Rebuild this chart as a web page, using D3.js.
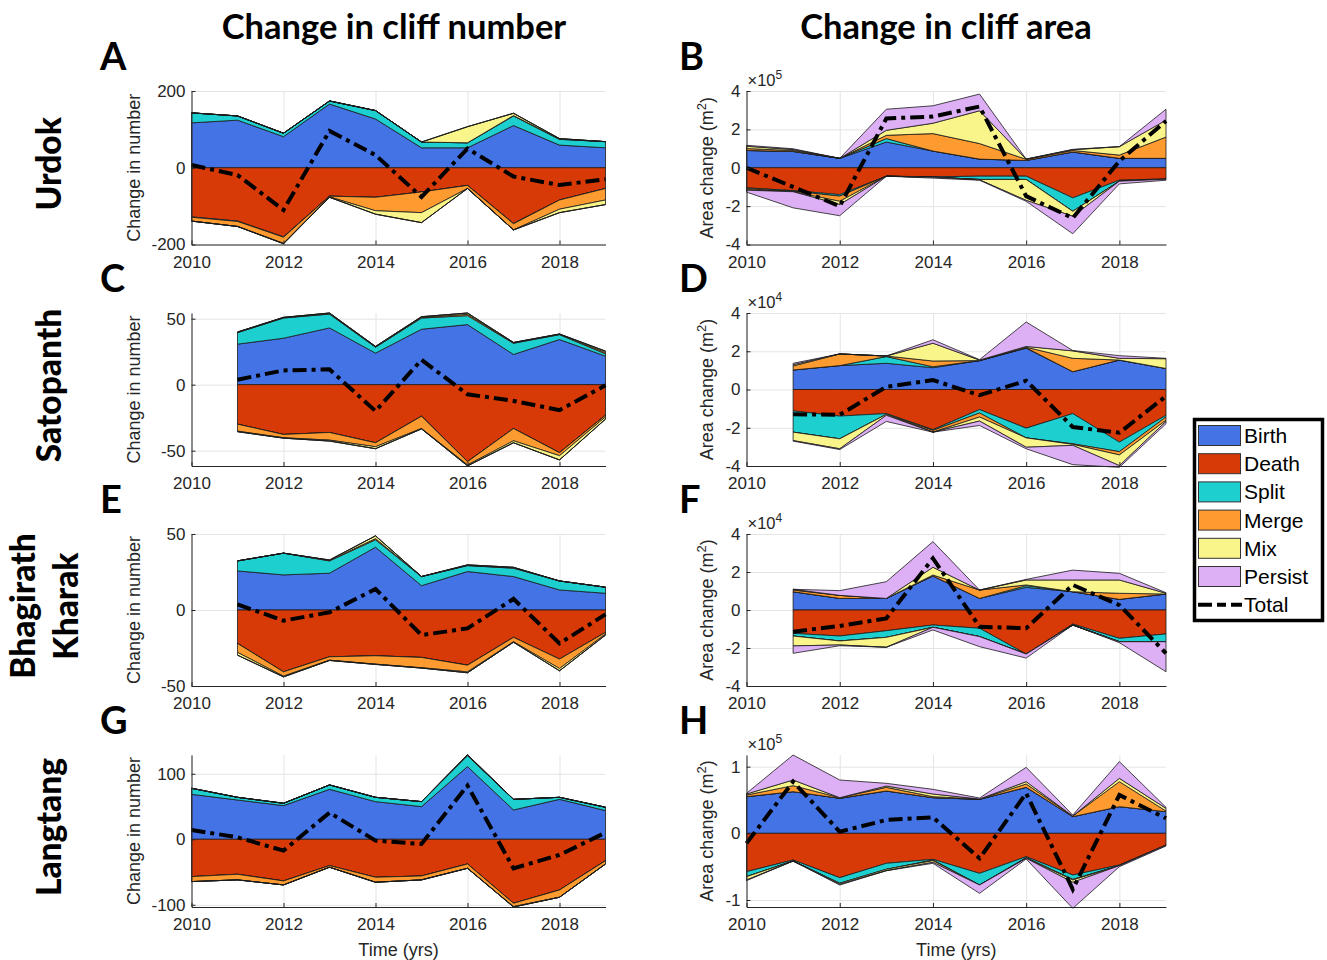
<!DOCTYPE html>
<html><head><meta charset="utf-8">
<script src="https://cdn.jsdelivr.net/npm/d3@7"></script>
<style>body{margin:0;background:#fff;} svg{display:block;}</style>
</head><body>
<svg id="chart" width="1327" height="960"></svg>
<script>
// ---------- shared labels ----------
const yearsAll = [2010, 2011, 2012, 2013, 2014, 2015, 2016, 2017, 2018, 2019];
const yearsLate = [2011, 2012, 2013, 2014, 2015, 2016, 2017, 2018, 2019];
const xTickYears = [2010, 2012, 2014, 2016, 2018];
const legendNames = ["Birth", "Death", "Split", "Merge", "Mix", "Persist", "Total"];
const columnTitles = ["Change in cliff number", "Change in cliff area"];
const rowNames = [["Urdok"], ["Satopanth"], ["Bhagirath", "Kharak"], ["Langtang"]];
const panelLetters = ["A", "B", "C", "D", "E", "F", "G", "H"];

// ---------- Panel A : Urdok, number ----------
const A_birth     = [117, 124, 81, 166, 127, 52, 52, 110, 59, 52];
const A_splitUp   = [26, 11, 9, 8, 22, 15, 13, 25, 15, 16];
const A_mergeUp   = [0, 0, 0, 0, 0, 0, 0, 1, 1, 0];
const A_mixUp     = [0, 0, 0, 0, 0, 0, 42, 6, 1, 0];
const A_persistUp = [0, 0, 0, 0, 0, 0, 0, 0, 0, 0];
const A_death     = [-128, -139, -180, -74, -77, -63, -46, -145, -84, -54];
const A_splitDown = [-1, -1, -1, 0, 0, 0, 0, -1, 0, 0];
const A_mergeDown = [-10, -13, -16, -2, -35, -54, -8, -16, -24, -30];
const A_mixDown   = [0, 0, -1, -1, -9, -26, 0, 0, -9, -12];
const A_persistDown = [0, 0, 0, 0, 0, 0, 0, 0, 0, 0];
const A_total     = [7, -19, -110, 96, 33, -76, 50, -23, -45, -30];
const A_yTicks = [-200, 0, 200];
const A_yRange = [-200, 200];

// ---------- Panel B : Urdok, area (x10^5 m2) ----------
const B_birth     = [0.9, 0.85, 0.49, 1.34, 0.87, 0.45, 0.38, 0.82, 0.49, 0.49];
const B_splitUp   = [0, 0, 0, 0.18, 0, 0, 0, 0, 0, 0];
const B_mergeUp   = [0.1, 0.05, 0, 0.17, 0.91, 0.81, 0.06, 0.08, 0.17, 1.11];
const B_mixUp     = [0.12, 0.05, 0, 0.26, 0.54, 1.71, 0.01, 0.04, 0.44, 0.88];
const B_persistUp = [0.05, 0.04, 0, 1.1, 0.91, 0.87, 0, 0.02, 0, 0.57];
const B_death     = [-1.05, -1.19, -1.4, -0.44, -0.47, -0.44, -0.44, -1.57, -0.65, -0.58];
const B_splitDown = [-0.05, -0.03, -0.08, 0, -0.02, -0.17, -0.17, -0.7, -0.05, -0.02];
const B_mergeDown = [-0.07, -0.03, -0.27, 0, 0, 0, 0, 0, 0, 0];
const B_mixDown   = [0, 0, -0.17, 0, 0, -0.02, -1.09, -0.26, 0, 0];
const B_persistDown = [-0.1, -0.84, -0.58, 0, -0.05, -0.02, -0.05, -0.91, -0.14, -0.05];
const B_total     = [0, -1.0, -2.0, 2.57, 2.67, 3.19, -1.48, -2.62, 0.35, 2.44];
const B_yTicks = [-4, -2, 0, 2, 4];
const B_yRange = [-4, 4];

// ---------- Panel C : Satopanth, number ----------
const C_birth     = [30.7, 35.2, 43, 23.9, 42, 45.5, 22.9, 34.2, 21.6];
const C_splitUp   = [8.7, 15.3, 10.5, 4.5, 8.5, 6.8, 8.5, 3.7, 1.8];
const C_mergeUp   = [0.3, 0.3, 0.4, 0.3, 0.5, 1, 0.3, 0.3, 1];
const C_mixUp     = [0.2, 0.2, 0.4, 0.3, 0.5, 1, 0.3, 0.2, 1];
const C_persistUp = [0, 0, 0, 0, 0, 0, 0, 0, 0];
const C_death     = [-29.9, -37.7, -36.2, -44, -23.9, -58.3, -33.2, -51.5, -23.1];
const C_splitDown = [0, 0, 0, 0, 0, 0, 0, 0, 0];
const C_mergeDown = [-5.3, -2.5, -5.8, -3, -9.3, -2.5, -9.3, -2.3, -1.3];
const C_mixDown   = [-0.4, -0.3, -0.7, -1.5, -0.3, -0.7, -1.5, -3.2, -1.7];
const C_persistDown = [0, 0, 0, 0, 0, 0, 0, 0, 0];
const C_total     = [3.8, 10.8, 11.6, -20, 18.8, -7.3, -12.3, -19.3, -0.5];
const C_yTicks = [-50, 0, 50];
const C_yRange = [-61.6, 54.3];

// ---------- Panel D : Satopanth, area (x10^4 m2) ----------
const D_birth     = [1.02, 1.25, 1.37, 1.14, 1.51, 2.16, 0.93, 1.54, 1.1];
const D_splitUp   = [0, 0, 0.35, 0.05, 0, 0.02, 0, 0, 0];
const D_mergeUp   = [0.21, 0.61, 0.03, 0.3, 0, 0.03, 0.7, 0, 0];
const D_mixUp     = [0.07, 0, 0, 0.93, 0.03, 0.04, 0.39, 0.09, 0.51];
const D_persistUp = [0.07, 0, 0, 0.18, 0.02, 1.28, 0.02, 0.14, 0.02];
const D_death     = [-1.12, -1.39, -1.26, -2.1, -1.05, -2.02, -1.26, -2.75, -1.35];
const D_splitDown = [-1.11, -1.19, -0.04, -0.04, -0.18, -0.51, -1.58, -0.5, -0.09];
const D_mergeDown = [0, 0, 0, -0.09, -0.21, 0, -0.03, -0.17, -0.17];
const D_mixDown   = [-0.44, -0.52, -0.05, 0, -0.21, -0.49, -0.05, -0.56, -0.06];
const D_persistDown = [-0.03, -0.04, -0.32, 0, -0.23, -0.08, -1.01, -0.09, -0.12];
const D_total     = [-1.3, -1.32, 0.14, 0.49, -0.3, 0.46, -1.96, -2.26, -0.35];
const D_yTicks = [-4, -2, 0, 2, 4];
const D_yRange = [-4, 4];

// ---------- Panel E : Bhagirath Kharak, number ----------
const E_birth     = [25.7, 23.1, 24.2, 41.3, 16, 25.3, 22, 13.2, 11];
const E_splitUp   = [6.6, 14.3, 8.1, 4.9, 6, 3.9, 5.5, 5.9, 4];
const E_mergeUp   = [0, 0, 0.3, 0.8, 0, 0.2, 0.3, 0, 0];
const E_mixUp     = [0, 0, 0.3, 1.8, 0, 0.3, 0.3, 0, 0];
const E_persistUp = [0, 0, 0, 0, 0, 0, 0, 0, 0];
const E_death     = [-22, -40.7, -30.8, -30.1, -31.2, -36.3, -18, -32.3, -14.7];
const E_splitDown = [0, 0, 0, 0, 0, 0, 0, 0, 0];
const E_mergeDown = [-5.9, -2.8, -2.2, -5.5, -6.8, -4.4, -2.9, -6.2, -1.1];
const E_mixDown   = [-1.8, -0.5, -0.2, -0.2, -0.2, -0.6, -0.3, -1.5, -0.7];
const E_persistDown = [0, 0, 0, 0, 0, 0, 0, 0, 0];
const E_total     = [3.7, -7, -1.5, 13.8, -16.5, -12.1, 7.3, -22, -2.9];
const E_yTicks = [-50, 0, 50];
const E_yRange = [-50, 50];

// ---------- Panel F : Bhagirath Kharak, area (x10^4 m2) ----------
const F_birth     = [0.96, 0.61, 0.61, 1.79, 0.61, 1.19, 0.96, 0.56, 0.84];
const F_splitUp   = [0, 0, 0, 0, 0, 0.09, 0, 0, 0];
const F_mergeUp   = [0.09, 0.16, 0, 0.05, 0.44, 0.04, 0, 0.32, 0];
const F_mixUp     = [0.04, 0, 0, 0.41, 0, 0.26, 0.62, 0.7, 0.04];
const F_persistUp = [0, 0.25, 0.88, 1.35, 0, 0.03, 0.52, 0.35, 0.03];
const F_death     = [-1.23, -1.37, -1.09, -0.79, -0.96, -2.32, -0.74, -1.49, -1.26];
const F_splitDown = [-0.14, -0.26, -0.35, -0.12, -0.44, 0, -0.05, -0.18, -0.41];
const F_mergeDown = [0, 0, 0, 0, 0, 0, 0, 0, 0];
const F_mixDown   = [-0.52, -0.21, -0.52, 0, 0, 0, 0, 0, 0];
const F_persistDown = [-0.39, -0.04, 0, -0.14, -0.53, -0.21, 0, -0.05, -1.58];
const F_total     = [-1.14, -0.84, -0.44, 2.72, -0.88, -0.96, 1.32, 0.26, -2.28];
const F_yTicks = [-4, -2, 0, 2, 4];
const F_yRange = [-4, 4];

// ---------- Panel G : Langtang, number ----------
const G_birth     = [68.7, 60, 51.4, 76.3, 57.5, 49.9, 111, 44.8, 61, 43.8];
const G_splitUp   = [9.2, 4.1, 3.6, 6.7, 6.6, 7.6, 16.7, 16.2, 3.1, 5.1];
const G_mergeUp   = [0, 0, 0, 0, 0, 0, 0.5, 0, 0, 0];
const G_mixUp     = [0, 0, 0, 0, 0, 0, 1, 0, 0, 0];
const G_persistUp = [0, 0, 0, 0, 0, 0, 0, 0, 0, 0];
const G_death     = [-57, -53.4, -63.6, -40.2, -58, -56, -37.7, -97.7, -77.4, -32.6];
const G_splitDown = [0, 0, 0, 0, 0, 0, 0, 0, 0, 0];
const G_mergeDown = [-7.6, -8.6, -6.1, -2.5, -7.6, -6, -6.6, -5.1, -11.1, -5.1];
const G_mixDown   = [0, 0, 0, 0, 0, 0, 0, -0.6, 0, 0];
const G_persistDown = [0, 0, 0, 0, 0, 0, 0, 0, 0, 0];
const G_total     = [14.2, 3, -17.3, 40.7, -2, -7.1, 82, -44.3, -23.9, 10.2];
const G_yTicks = [-100, 0, 100];
const G_yRange = [-103.4, 128.7];

// ---------- Panel H : Langtang, area (x10^5 m2) ----------
const H_birth     = [0.55, 0.625, 0.525, 0.635, 0.535, 0.51, 0.69, 0.25, 0.4, 0.325];
const H_splitUp   = [0, 0, 0, 0, 0, 0, 0, 0, 0, 0];
const H_mergeUp   = [0.025, 0.09, 0.01, 0.055, 0.015, 0.005, 0.05, 0.01, 0.375, 0.01];
const H_mixUp     = [0.015, 0.085, 0, 0.02, 0.04, 0, 0.035, 0, 0.05, 0.04];
const H_persistUp = [0.01, 0.375, 0.265, 0.04, 0.07, 0.015, 0.215, 0.015, 0.25, 0.015];
const H_death     = [-0.575, -0.4, -0.665, -0.45, -0.39, -0.6, -0.35, -0.625, -0.475, -0.175];
const H_splitDown = [-0.075, -0.015, -0.085, -0.09, -0.01, -0.175, -0.015, -0.065, -0.01, -0.005];
const H_mergeDown = [0, 0, 0, 0, -0.01, 0, -0.01, -0.01, 0, 0];
const H_mixDown   = [-0.05, 0, -0.015, -0.02, -0.025, 0, 0, -0.035, 0, 0];
const H_persistDown = [-0.01, 0, -0.01, 0, -0.015, -0.125, -0.01, -0.39, -0.015, -0.01];
const H_total     = [-0.15, 0.775, 0.025, 0.2, 0.24, -0.375, 0.6, -0.84, 0.575, 0.225];
const H_yTicks = [-1, 0, 1];
const H_yRange = [-1.105, 1.175];

const exponentLabels = [null, "5", null, "4", null, "4", null, "5"];

// ---------- styles ----------
const colorBirth = "#4473E6", colorDeath = "#D83A07", colorSplit = "#1ECFD0",
      colorMerge = "#FD9B30", colorMix = "#FAF58A", colorPersist = "#DDB0F5";
const upColors = [colorBirth, colorSplit, colorMerge, colorMix, colorPersist];
const downColors = [colorDeath, colorSplit, colorMerge, colorMix, colorPersist];
const legendColors = [colorBirth, colorDeath, colorSplit, colorMerge, colorMix, colorPersist];

const tickFont = "'Liberation Sans', Arial, sans-serif";
const boldFont = "Lato, 'Noto Sans', sans-serif";
const inkColor = "#262626";
const dashPattern = "14,5,4,5";

const colX = [[191.5, 605.5], [746.5, 1166]];
const rowY = [[91, 244.5], [313, 466], [534, 686], [755, 907]];

const panels = [
  {up: [A_birth, A_splitUp, A_mergeUp, A_mixUp, A_persistUp], down: [A_death, A_splitDown, A_mergeDown, A_mixDown, A_persistDown], total: A_total, yrs: yearsAll, ticks: A_yTicks, range: A_yRange},
  {up: [B_birth, B_splitUp, B_mergeUp, B_mixUp, B_persistUp], down: [B_death, B_splitDown, B_mergeDown, B_mixDown, B_persistDown], total: B_total, yrs: yearsAll, ticks: B_yTicks, range: B_yRange},
  {up: [C_birth, C_splitUp, C_mergeUp, C_mixUp, C_persistUp], down: [C_death, C_splitDown, C_mergeDown, C_mixDown, C_persistDown], total: C_total, yrs: yearsLate, ticks: C_yTicks, range: C_yRange},
  {up: [D_birth, D_splitUp, D_mergeUp, D_mixUp, D_persistUp], down: [D_death, D_splitDown, D_mergeDown, D_mixDown, D_persistDown], total: D_total, yrs: yearsLate, ticks: D_yTicks, range: D_yRange},
  {up: [E_birth, E_splitUp, E_mergeUp, E_mixUp, E_persistUp], down: [E_death, E_splitDown, E_mergeDown, E_mixDown, E_persistDown], total: E_total, yrs: yearsLate, ticks: E_yTicks, range: E_yRange},
  {up: [F_birth, F_splitUp, F_mergeUp, F_mixUp, F_persistUp], down: [F_death, F_splitDown, F_mergeDown, F_mixDown, F_persistDown], total: F_total, yrs: yearsLate, ticks: F_yTicks, range: F_yRange},
  {up: [G_birth, G_splitUp, G_mergeUp, G_mixUp, G_persistUp], down: [G_death, G_splitDown, G_mergeDown, G_mixDown, G_persistDown], total: G_total, yrs: yearsAll, ticks: G_yTicks, range: G_yRange},
  {up: [H_birth, H_splitUp, H_mergeUp, H_mixUp, H_persistUp], down: [H_death, H_splitDown, H_mergeDown, H_mixDown, H_persistDown], total: H_total, yrs: yearsAll, ticks: H_yTicks, range: H_yRange}
];

const svg = d3.select("#chart");

function stackLayers(layers, n) {
  const out = [];
  const cum = new Array(n).fill(0);
  layers.forEach(arr => {
    const pts = [];
    for (let i = 0; i < n; i++) {
      const y0 = cum[i];
      cum[i] += arr[i];
      pts.push({i, y0, y1: cum[i]});
    }
    out.push(pts);
  });
  return out;
}

panels.forEach((p, k) => {
  const col = k % 2, row = Math.floor(k / 2);
  const [xl, xr] = colX[col];
  const [yt, yb] = rowY[row];
  const x = d3.scaleLinear().domain([2010, 2019]).range([xl, xr]);
  const y = d3.scaleLinear().domain(p.range).range([yb, yt]);
  const g = svg.append("g");

  // grid
  const gx = g.append("g").attr("transform", `translate(0,${yb})`)
    .call(d3.axisBottom(x).tickValues(xTickYears).tickSize(-(yb - yt)).tickFormat(""));
  const gy = g.append("g").attr("transform", `translate(${xl},0)`)
    .call(d3.axisLeft(y).tickValues(p.ticks).tickSize(-(xr - xl)).tickFormat(""));
  [gx, gy].forEach(a => {
    a.select(".domain").remove();
    a.selectAll("line").attr("stroke", "#e4e4e4").attr("stroke-width", 1);
  });

  const n = p.yrs.length;
  const area = d3.area()
    .x(d => x(p.yrs[d.i]))
    .y0(d => y(d.y0))
    .y1(d => y(d.y1));
  const upStack = stackLayers(p.up, n);
  const downStack = stackLayers(p.down, n);
  upStack.forEach((pts, j) => {
    g.append("path").attr("d", area(pts)).attr("fill", upColors[j])
      .attr("stroke", "#1a1a1a").attr("stroke-width", 0.8).attr("stroke-linejoin", "round");
  });
  downStack.forEach((pts, j) => {
    g.append("path").attr("d", area(pts)).attr("fill", downColors[j])
      .attr("stroke", "#1a1a1a").attr("stroke-width", 0.8).attr("stroke-linejoin", "round");
  });

  // total line
  const line = d3.line().x((d, i) => x(p.yrs[i])).y(d => y(d));
  g.append("path").attr("d", line(p.total)).attr("fill", "none")
    .attr("stroke", "#000").attr("stroke-width", 4).attr("stroke-dasharray", dashPattern);

  // axes
  const fmt = d => String(d);
  const ax = g.append("g").attr("transform", `translate(0,${yb})`)
    .call(d3.axisBottom(x).tickValues(xTickYears).tickSize(-4).tickSizeOuter(0).tickPadding(11).tickFormat(fmt));
  const ay = g.append("g").attr("transform", `translate(${xl},0)`)
    .call(d3.axisLeft(y).tickValues(p.ticks).tickSize(-4).tickSizeOuter(0).tickPadding(6).tickFormat(fmt));
  [ax, ay].forEach(a => {
    a.select(".domain").attr("stroke", inkColor).attr("stroke-width", 1);
    a.selectAll("line").attr("stroke", inkColor);
    a.selectAll("text").attr("fill", inkColor).style("font-family", tickFont).style("font-size", "17px");
  });

  // y label
  const ylx = col === 0 ? 140 : 713;
  const ylab = g.append("text")
    .attr("transform", `translate(${ylx},${(yt + yb) / 2}) rotate(-90)`)
    .attr("text-anchor", "middle")
    .attr("fill", inkColor)
    .style("font-family", tickFont).style("font-size", "18px");
  if (col === 0) {
    ylab.text("Change in number");
  } else {
    ylab.append("tspan").text("Area change (m");
    ylab.append("tspan").attr("dy", -7).style("font-size", "13px").text("2");
    ylab.append("tspan").attr("dy", 7).text(")");
  }

  // exponent
  if (exponentLabels[k]) {
    const ex = g.append("text").attr("x", xl + 1).attr("y", yt - 5)
      .attr("fill", inkColor).style("font-family", tickFont).style("font-size", "16.5px");
    ex.append("tspan").text("\u00d710");
    ex.append("tspan").attr("dy", -7).style("font-size", "12px").text(exponentLabels[k]);
  }

  // x label on bottom row
  if (row === 3) {
    g.append("text").attr("x", (xl + xr) / 2).attr("y", 956)
      .attr("text-anchor", "middle").attr("fill", inkColor)
      .style("font-family", tickFont).style("font-size", "18px").text("Time (yrs)");
  }

  // panel letter
  g.append("text").attr("x", col === 0 ? 100 : 679).attr("y", yt - 21)
    .style("font-family", boldFont).style("font-weight", "bold").style("font-size", "38px")
    .attr("fill", "#000").text(panelLetters[k]);
});

// column titles
svg.selectAll(".coltitle").data(columnTitles).enter().append("text")
  .attr("x", (d, i) => i === 0 ? 394 : 946).attr("y", 39)
  .attr("text-anchor", "middle")
  .style("font-family", boldFont).style("font-weight", "bold").style("font-size", "34.5px")
  .attr("fill", "#000").text(d => d);

// row labels
rowNames.forEach((names, r) => {
  const cy = (rowY[r][0] + rowY[r][1]) / 2 - 4;
  const xs = names.length === 1 ? [61] : [35, 78];
  names.forEach((nm, j) => {
    svg.append("text").attr("transform", `translate(${xs[j]},${cy}) rotate(-90)`)
      .attr("text-anchor", "middle")
      .style("font-family", boldFont).style("font-weight", "900").style("font-size", "33.5px")
      .attr("fill", "#000").text(nm);
  });
});

// legend
const lg = svg.append("g");
lg.append("rect").attr("x", 1194.5).attr("y", 419.5).attr("width", 128).attr("height", 201)
  .attr("fill", "#fff").attr("stroke", "#000").attr("stroke-width", 3.5);
const rowH = 28.2, firstY = 435.5;
legendNames.forEach((nm, i) => {
  const cy = firstY + i * rowH;
  if (i < 6) {
    lg.append("rect").attr("x", 1198.5).attr("y", cy - 10).attr("width", 42).attr("height", 20)
      .attr("fill", legendColors[i]).attr("stroke", "#333").attr("stroke-width", 1);
  } else {
    lg.append("line").attr("x1", 1198).attr("x2", 1242).attr("y1", cy).attr("y2", cy)
      .attr("stroke", "#000").attr("stroke-width", 4).attr("stroke-dasharray", "14,5,9,5");
  }
  lg.append("text").attr("x", 1244).attr("y", cy + 7.5)
    .style("font-family", tickFont).style("font-size", "21px").attr("fill", "#000").text(nm);
});
</script>
</body></html>
